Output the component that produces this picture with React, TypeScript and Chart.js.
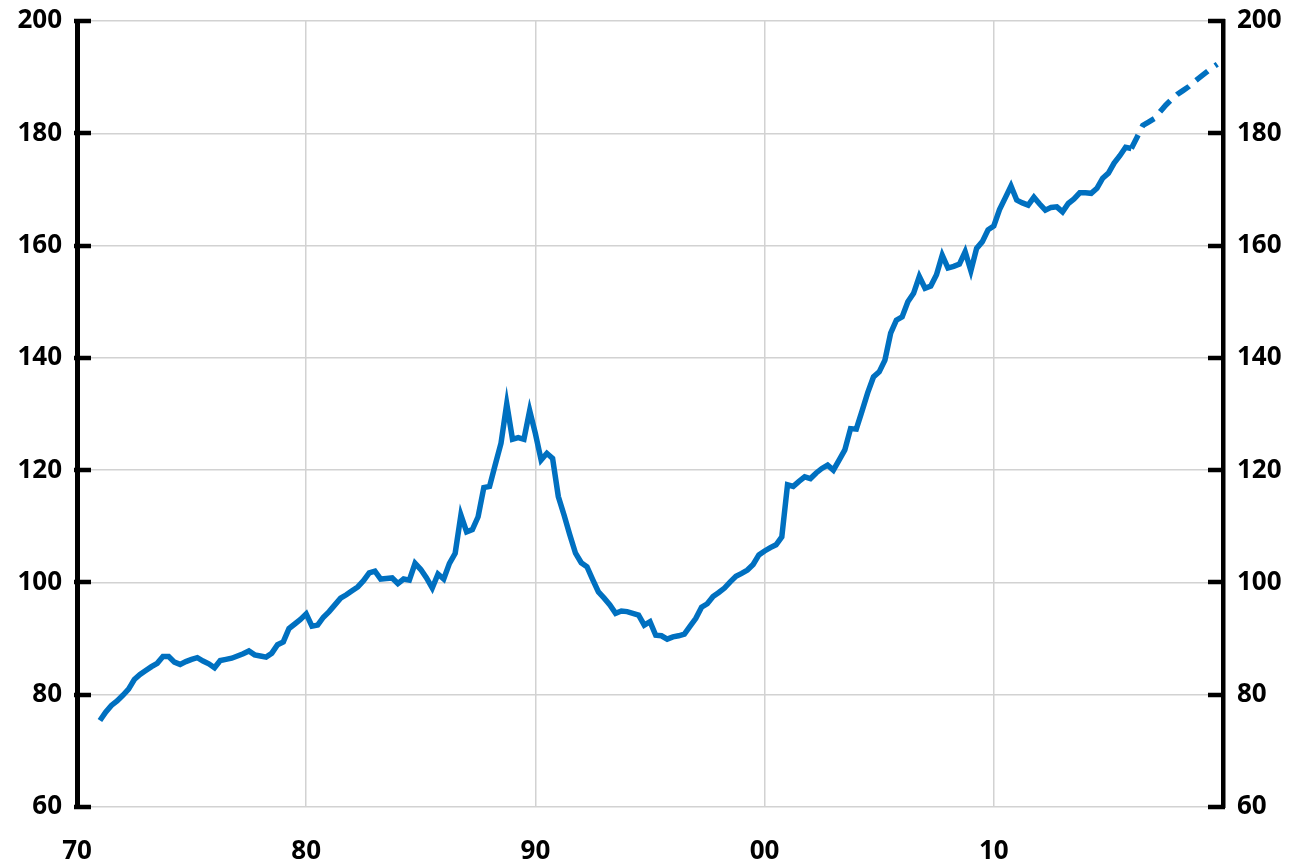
import React, { useEffect, useRef } from 'react';
import { Chart, registerables } from 'chart.js';

Chart.register(...registerables);

// Quarterly index values, first point = 1971 Q1
const ACTUAL_START_YEAR = 1971;
const actualValues: number[] = [
  75.4, 76.9, 78.1, 78.9, // 1971
  79.9, 81.0, 82.7, 83.6, // 1972
  84.3, 85.0, 85.6, 86.8, // 1973
  86.8, 85.8, 85.4, 85.9, // 1974
  86.3, 86.6, 86.0, 85.5, // 1975
  84.8, 86.1, 86.3, 86.5, // 1976
  86.9, 87.3, 87.8, 87.1, // 1977
  86.9, 86.7, 87.4, 88.9, // 1978
  89.4, 91.8, 92.6, 93.4, // 1979
  94.4, 92.2, 92.4, 93.8, // 1980
  94.8, 96.0, 97.2, 97.8, // 1981
  98.5, 99.2, 100.3, 101.7, // 1982
  102.0, 100.6, 100.7, 100.8, // 1983
  99.8, 100.6, 100.4, 103.4, // 1984
  102.3, 100.8, 99.0, 101.5, // 1985
  100.6, 103.4, 105.2, 112.0, // 1986
  109.0, 109.4, 111.7, 116.9, // 1987
  117.1, 121.0, 124.8, 131.8, // 1988
  125.5, 125.8, 125.5, 130.6, // 1989
  126.5, 121.8, 123.0, 122.1, // 1990
  115.3, 112.0, 108.5, 105.2, // 1991
  103.5, 102.8, 100.5, 98.3, // 1992
  97.2, 96.0, 94.5, 94.9, // 1993
  94.8, 94.5, 94.2, 92.4, // 1994
  93.0, 90.6, 90.5, 89.9, // 1995
  90.3, 90.5, 90.8, 92.2, // 1996
  93.6, 95.6, 96.2, 97.5, // 1997
  98.2, 99.0, 100.1, 101.1, // 1998
  101.6, 102.2, 103.2, 104.9, // 1999
  105.6, 106.2, 106.7, 108.1, // 2000
  117.4, 117.1, 118.0, 118.8, // 2001
  118.5, 119.5, 120.3, 120.9, // 2002
  120.0, 121.8, 123.6, 127.4, // 2003
  127.3, 130.5, 133.8, 136.6, // 2004
  137.5, 139.6, 144.4, 146.7, // 2005
  147.3, 150.0, 151.5, 154.5, // 2006
  152.4, 152.8, 154.8, 158.3, // 2007
  156.0, 156.3, 156.7, 158.9, // 2008
  155.5, 159.5, 160.7, 162.8, // 2009
  163.5, 166.4, 168.5, 170.6, // 2010
  168.1, 167.6, 167.2, 168.6, // 2011
  167.4, 166.3, 166.8, 166.9, // 2012
  166.0, 167.5, 168.3, 169.4, // 2013
  169.4, 169.3, 170.2, 172.0, // 2014
  172.9, 174.7, 176.0, 177.5, // 2015
  177.3, // 2016 Q1
];

// Forecast (dashed), quarterly, first point = 2016 Q1
const FORECAST_START_YEAR = 2016;
const forecastValues: number[] = [
  177.3, 179.3, 181.4, 182.0, // 2016
  182.6, 183.8, 185.0, 186.0, // 2017
  186.9, 187.6, 188.3, 189.2, // 2018
  190.0, 190.8, 191.6, 192.3, // 2019
];

const xTickYears: number[] = [1970, 1980, 1990, 2000, 2010];
const xTickLabels: string[] = ['70', '80', '90', '00', '10'];
const yTickValues: number[] = [60, 80, 100, 120, 140, 160, 180, 200];

const LINE_COLOR = '#0070C0';
const GRID_COLOR = '#d2d2d2';
const FONT = { family: '"Open Sans", "Noto Sans", sans-serif', size: 26, weight: 'bold' as const };

const toPoints = (start: number, values: number[]) =>
  values.map((v, i) => ({ x: start + i * 0.25, y: v }));

const inwardTicks = {
  id: 'inwardTicks',
  afterDraw(chart: any) {
    const { ctx, chartArea, scales } = chart;
    const y = scales.y;
    ctx.save();
    ctx.strokeStyle = '#000';
    ctx.lineWidth = 4.5;
    ctx.lineCap = 'butt';
    for (const v of yTickValues) {
      const py = Math.round(y.getPixelForValue(v));
      ctx.beginPath();
      ctx.moveTo(chartArea.left - 3, py);
      ctx.lineTo(chartArea.left + 14, py);
      ctx.moveTo(chartArea.right - 15, py);
      ctx.lineTo(chartArea.right + 2, py);
      ctx.stroke();
    }
    ctx.restore();
  },
};

export default function App() {
  const ref = useRef<HTMLCanvasElement | null>(null);

  useEffect(() => {
    if (!ref.current) return;
    const setYTicks = (s: any) => {
      s.ticks = yTickValues.map((v) => ({ value: v }));
    };
    const chart = new Chart(ref.current, {
      type: 'line',
      data: {
        datasets: [
          {
            data: toPoints(ACTUAL_START_YEAR, actualValues),
            borderColor: LINE_COLOR,
            borderWidth: 5.5,
            pointRadius: 0,
            tension: 0,
            fill: false,
          },
          {
            data: toPoints(FORECAST_START_YEAR, forecastValues),
            borderColor: LINE_COLOR,
            borderWidth: 5.5,
            borderDash: [15, 9],
            pointRadius: 0,
            tension: 0,
            fill: false,
          },
        ],
      },
      options: {
        responsive: false,
        animation: false,
        devicePixelRatio: 1,
        layout: { padding: { top: 21, left: 0, right: 0, bottom: 0 } },
        plugins: {
          legend: { display: false },
          tooltip: { enabled: false },
        },
        scales: {
          x: {
            type: 'linear',
            min: 1970,
            max: 2020,
            afterBuildTicks: (s: any) => {
              s.ticks = xTickYears.map((v) => ({ value: v }));
            },
            afterFit: (s: any) => {
              s.height = 53;
              s.paddingLeft = 0;
              s.paddingRight = 0;
            },
            ticks: {
              font: FONT,
              color: '#000',
              padding: 29,
              maxRotation: 0,
              autoSkip: false,
              callback: (v: any) => {
                const i = xTickYears.indexOf(Number(v));
                return i >= 0 ? xTickLabels[i] : '';
              },
            },
            grid: { color: GRID_COLOR, lineWidth: 1.5, drawTicks: false },
            border: { display: false },
          },
          y: {
            type: 'linear',
            position: 'left',
            min: 60,
            max: 200,
            afterBuildTicks: setYTicks,
            afterFit: (s: any) => {
              s.width = 77;
              s.paddingTop = 0;
              s.paddingBottom = 0;
            },
            ticks: { font: FONT, color: '#000', padding: 15 },
            grid: { color: GRID_COLOR, lineWidth: 1.5, drawTicks: false },
            border: { display: true, color: '#000', width: 5 },
          },
          y2: {
            type: 'linear',
            position: 'right',
            min: 60,
            max: 200,
            afterBuildTicks: setYTicks,
            afterFit: (s: any) => {
              s.width = 67;
              s.paddingTop = 0;
              s.paddingBottom = 0;
            },
            ticks: { font: FONT, color: '#000', padding: 14 },
            grid: { display: false, drawTicks: false },
            border: { display: true, color: '#000', width: 4.5 },
          },
        },
      },
      plugins: [inwardTicks],
    });
    return () => chart.destroy();
  }, []);

  return (
    <div style={{ position: 'fixed', left: 0, top: 0, width: 1290, height: 860, background: '#fff' }}>
      <canvas ref={ref} width={1290} height={860} style={{ display: 'block' }} />
    </div>
  );
}
